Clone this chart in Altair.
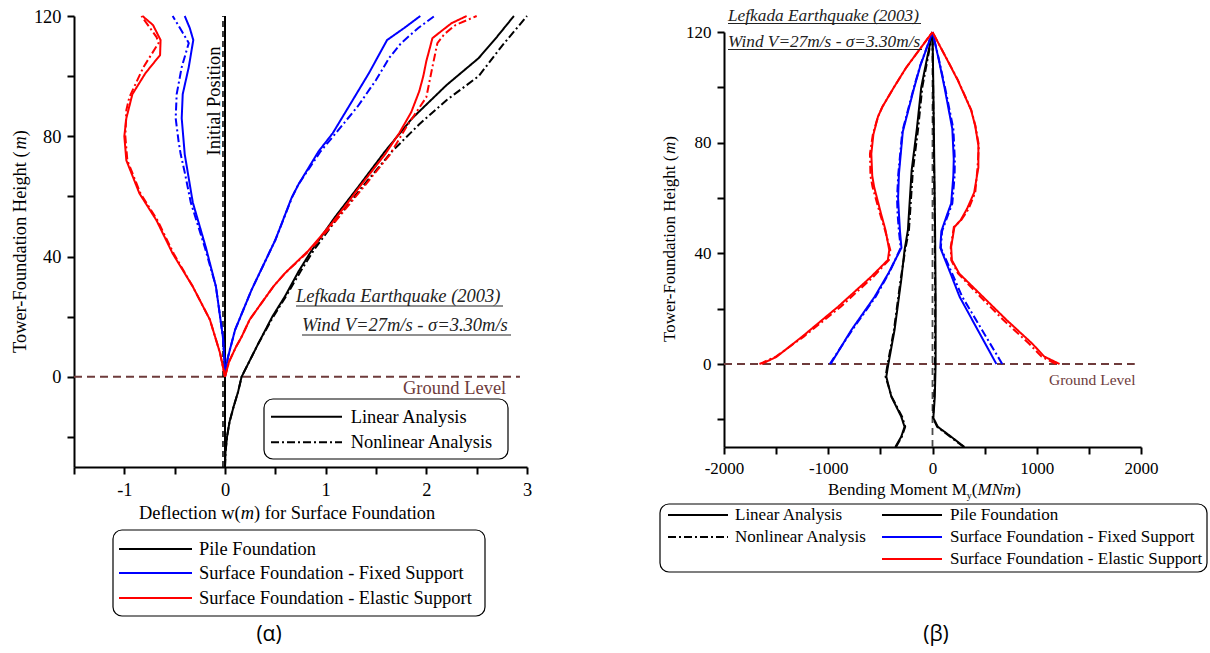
import altair as alt
import pandas as pd

SERIF = "Liberation Serif"
SANS = "Open Sans"
BROWN = "#6e3b3b"
INK = "#222222"
DASHDOT = [8, 3, 2, 3]

FOUNDATIONS = ["Pile Foundation", "Surface Foundation - Fixed Support", "Surface Foundation - Elastic Support"]
FOUND_COLORS = ["#000000", "#0000ff", "#ff0000"]
ANALYSES = ["Linear Analysis", "Nonlinear Analysis"]

# ---------------- (α) deflection w (m) vs height (m) ----------------
DEF_PILE_LIN_H = [-30, -25, -20, -15, -10, -5, 0, 5, 11, 20, 27, 35, 42, 53, 63, 75, 86, 97, 106, 113, 120]
DEF_PILE_LIN_W = [0.0, 0.005, 0.02, 0.045, 0.085, 0.13, 0.165, 0.24, 0.33, 0.47, 0.60, 0.73, 0.86, 1.09, 1.32, 1.59, 1.86, 2.20, 2.52, 2.70, 2.87]
DEF_PILE_NL_H = [-30, -25, -20, -15, -10, -5, 0, 5, 11, 20, 27, 35, 42, 53, 63, 75, 84, 92, 100, 110, 120]
DEF_PILE_NL_W = [0.0, 0.005, 0.02, 0.045, 0.085, 0.13, 0.165, 0.24, 0.33, 0.48, 0.61, 0.75, 0.88, 1.12, 1.36, 1.66, 1.93, 2.20, 2.52, 2.75, 3.00]

DEF_FIX_LIN_POS_H = [0, 3, 6.6, 15.6, 29, 45.5, 59.4, 64, 75, 81, 91, 101, 112, 116, 120]
DEF_FIX_LIN_POS_W = [0, 0.01, 0.03, 0.10, 0.265, 0.50, 0.66, 0.73, 0.93, 1.07, 1.25, 1.43, 1.61, 1.78, 1.94]
DEF_FIX_NL_POS_H = [0, 3, 6.6, 15.6, 29, 45.5, 60, 64, 75, 81, 90, 98.7, 106, 111, 116, 120]
DEF_FIX_NL_POS_W = [0, 0.01, 0.03, 0.10, 0.265, 0.50, 0.67, 0.73, 0.95, 1.10, 1.32, 1.50, 1.63, 1.75, 1.92, 2.08]
DEF_FIX_LIN_NEG_H = [0, 5, 13, 30, 43, 58, 68, 74, 78, 86, 94, 103, 112, 116, 120]
DEF_FIX_LIN_NEG_W = [0, -0.005, -0.02, -0.09, -0.19, -0.32, -0.37, -0.40, -0.41, -0.43, -0.42, -0.36, -0.315, -0.35, -0.40]
DEF_FIX_NL_NEG_H = [0, 5, 13, 30, 43, 58, 68, 74, 78, 86, 94, 103, 111, 115, 120]
DEF_FIX_NL_NEG_W = [0, -0.005, -0.02, -0.09, -0.20, -0.34, -0.40, -0.44, -0.46, -0.49, -0.48, -0.43, -0.36, -0.43, -0.52]

DEF_EL_LIN_POS_H = [0, 5, 10, 13.3, 19, 23, 30, 34.6, 42, 51, 58.8, 62, 74, 81, 88, 95, 100, 105, 110, 112.6, 115, 117.6, 120]
DEF_EL_LIN_POS_W = [0, 0.04, 0.11, 0.165, 0.245, 0.33, 0.48, 0.60, 0.83, 1.06, 1.24, 1.31, 1.59, 1.73, 1.85, 1.93, 1.97, 2.00, 2.04, 2.06, 2.15, 2.25, 2.40]
DEF_EL_NL_POS_H = [0, 5, 10, 13.3, 19, 23, 30, 34.6, 42, 51, 58.8, 62, 74, 83, 93, 103, 111, 114, 117, 120]
DEF_EL_NL_POS_W = [0, 0.04, 0.11, 0.165, 0.245, 0.33, 0.48, 0.60, 0.84, 1.08, 1.27, 1.35, 1.64, 1.80, 2.00, 2.06, 2.11, 2.18, 2.29, 2.50]
DEF_EL_LIN_NEG_H = [0, 8, 19, 30, 41, 52, 61, 72, 80, 86, 94, 101, 107, 112, 117, 120]
DEF_EL_LIN_NEG_W = [0, -0.05, -0.15, -0.32, -0.52, -0.68, -0.85, -0.98, -1.00, -0.98, -0.92, -0.79, -0.645, -0.64, -0.715, -0.82]
DEF_EL_NL_NEG_H = [0, 8, 19, 30, 41, 52, 61, 72, 80, 88.7, 93, 103, 111, 113, 120]
DEF_EL_NL_NEG_W = [0, -0.05, -0.15, -0.32, -0.51, -0.67, -0.84, -0.97, -0.99, -0.98, -0.95, -0.81, -0.66, -0.68, -0.83]

# ---------------- (β) bending moment My (MNm) vs height (m) ----------------
MOM_PILE_LIN_NEG_H = [-30, -26.3, -22.7, -19, -11.8, -4.6, -1, 12.3, 30.4, 41.2, 48.4, 70, 85, 100, 110, 120]
MOM_PILE_LIN_NEG_M = [-357, -300, -268, -300, -395, -443, -428, -364, -300, -268, -236, -200, -150, -108, -55, 0]
MOM_PILE_NL_NEG_M = [-350, -295, -262, -292, -392, -450, -435, -370, -306, -262, -226, -188, -138, -98, -48, 0]
MOM_PILE_POS_H = [-30, -26.3, -22.7, -19.5, -12, 0, 24, 48, 70, 100, 120]
MOM_PILE_LIN_POS_M = [306, 179, 51, 8, 22, 30, 30, 25, 18, 8, 0]
MOM_PILE_NL_POS_M = [300, 170, 45, 5, 16, 24, 26, 22, 15, 6, 0]

MOM_FIX_NEG_H = [0, 12.3, 24.3, 33, 42, 48, 54.3, 60, 68.7, 84, 100, 108, 120]
MOM_FIX_LIN_NEG_M = [-977, -778, -555, -420, -298, -312, -322, -330, -322, -285, -175, -115, 0]
MOM_FIX_NL_NEG_M = [-985, -770, -545, -415, -305, -322, -335, -340, -328, -290, -178, -117, 0]
MOM_FIX_POS_H = [0, 12.3, 24.3, 33, 42, 48, 54, 58, 68, 74, 85, 100, 110, 120]
MOM_FIX_LIN_POS_M = [613, 434, 260, 170, 75, 85, 140, 179, 200, 204, 190, 115, 60, 0]
MOM_FIX_NL_POS_M = [669, 475, 285, 185, 80, 92, 150, 190, 212, 214, 200, 120, 62, 0]

MOM_EL_NEG_H = [0, 2.6, 9.9, 20.7, 31.6, 37.6, 41.2, 48.3, 54.5, 64, 68, 76, 83, 89.4, 93, 100, 107, 120]
MOM_EL_LIN_NEG_M = [-1639, -1496, -1250, -906, -587, -428, -415, -450, -495, -560, -578, -587, -567, -523, -480, -370, -255, 0]
MOM_EL_NL_NEG_M = [-1660, -1505, -1235, -880, -565, -418, -405, -455, -505, -575, -595, -600, -572, -523, -480, -370, -255, 0]
MOM_EL_POS_H = [0, 2.7, 7.4, 15.9, 23.1, 32.7, 37.5, 42.3, 49.5, 52, 56, 62, 71, 79, 86, 91.8, 102.6, 110, 120]
MOM_EL_LIN_POS_M = [1219, 1072, 956, 711, 516, 256, 186, 179, 210, 270, 330, 400, 440, 440, 410, 370, 242, 140, 0]
MOM_EL_NL_POS_M = [1185, 1045, 925, 680, 490, 245, 180, 175, 205, 275, 345, 410, 432, 445, 412, 372, 244, 141, 0]

DEF_SERIES = [
    (FOUNDATIONS[0], ANALYSES[0], DEF_PILE_LIN_H, DEF_PILE_LIN_W),
    (FOUNDATIONS[0], ANALYSES[1], DEF_PILE_NL_H, DEF_PILE_NL_W),
    (FOUNDATIONS[1], ANALYSES[0], DEF_FIX_LIN_POS_H, DEF_FIX_LIN_POS_W),
    (FOUNDATIONS[1], ANALYSES[1], DEF_FIX_NL_POS_H, DEF_FIX_NL_POS_W),
    (FOUNDATIONS[1], ANALYSES[0], DEF_FIX_LIN_NEG_H, DEF_FIX_LIN_NEG_W),
    (FOUNDATIONS[1], ANALYSES[1], DEF_FIX_NL_NEG_H, DEF_FIX_NL_NEG_W),
    (FOUNDATIONS[2], ANALYSES[0], DEF_EL_LIN_POS_H, DEF_EL_LIN_POS_W),
    (FOUNDATIONS[2], ANALYSES[1], DEF_EL_NL_POS_H, DEF_EL_NL_POS_W),
    (FOUNDATIONS[2], ANALYSES[0], DEF_EL_LIN_NEG_H, DEF_EL_LIN_NEG_W),
    (FOUNDATIONS[2], ANALYSES[1], DEF_EL_NL_NEG_H, DEF_EL_NL_NEG_W),
]
MOM_SERIES = [
    (FOUNDATIONS[0], ANALYSES[0], MOM_PILE_LIN_NEG_H, MOM_PILE_LIN_NEG_M),
    (FOUNDATIONS[0], ANALYSES[1], MOM_PILE_LIN_NEG_H, MOM_PILE_NL_NEG_M),
    (FOUNDATIONS[0], ANALYSES[0], MOM_PILE_POS_H, MOM_PILE_LIN_POS_M),
    (FOUNDATIONS[0], ANALYSES[1], MOM_PILE_POS_H, MOM_PILE_NL_POS_M),
    (FOUNDATIONS[1], ANALYSES[0], MOM_FIX_NEG_H, MOM_FIX_LIN_NEG_M),
    (FOUNDATIONS[1], ANALYSES[1], MOM_FIX_NEG_H, MOM_FIX_NL_NEG_M),
    (FOUNDATIONS[1], ANALYSES[0], MOM_FIX_POS_H, MOM_FIX_LIN_POS_M),
    (FOUNDATIONS[1], ANALYSES[1], MOM_FIX_POS_H, MOM_FIX_NL_POS_M),
    (FOUNDATIONS[2], ANALYSES[0], MOM_EL_NEG_H, MOM_EL_LIN_NEG_M),
    (FOUNDATIONS[2], ANALYSES[1], MOM_EL_NEG_H, MOM_EL_NL_NEG_M),
    (FOUNDATIONS[2], ANALYSES[0], MOM_EL_POS_H, MOM_EL_LIN_POS_M),
    (FOUNDATIONS[2], ANALYSES[1], MOM_EL_POS_H, MOM_EL_NL_POS_M),
]


def build(series, vname):
    rows = []
    for sid, (found, analysis, hs, vs) in enumerate(series):
        for i, (h, v) in enumerate(zip(hs, vs)):
            rows.append({"series": sid, "foundation": found, "analysis": analysis,
                         "idx": i, "height": h, vname: v})
    return pd.DataFrame(rows)


# Times / Liberation Serif advance widths (1/1000 em)
REG = {' ': 250, '(': 333, ')': 333, '-': 333}
REG.update(dict(zip("ABCDEFGHIJKLMNOPQRSTUVWXYZ",
                    [722, 667, 667, 722, 611, 556, 722, 722, 333, 389, 722, 611, 889, 722, 722, 556, 722, 667, 556, 611, 722, 722, 944, 722, 722, 611])))
REG.update(dict(zip("abcdefghijklmnopqrstuvwxyz",
                    [444, 500, 444, 500, 444, 333, 500, 500, 278, 278, 500, 278, 778, 500, 500, 500, 500, 333, 389, 278, 500, 500, 722, 500, 500, 444])))
ITA = {'m': 722, 'M': 833, 'N': 667}


def tw(s, size, italic=False):
    table = ITA if italic else {}
    return sum(table.get(c, REG.get(c, 500)) for c in s) / 1000.0 * size


ONE = alt.InlineData(values=[{"k": 0}])


def txt(x, y, s, size, font=SERIF, style="normal", color="black", align="left", baseline="alphabetic", angle=None):
    kw = dict(text=s, font=font, fontSize=size, fontStyle=style, color=color, align=align, baseline=baseline)
    if angle is not None:
        kw["angle"] = angle
    return alt.Chart(ONE).mark_text(**kw).encode(x=alt.value(x), y=alt.value(y))


def hline(x1, x2, y, color="black", width=2.0, dash=None):
    kw = dict(color=color, strokeWidth=width)
    if dash is not None:
        kw["strokeDash"] = dash
    return alt.Chart(ONE).mark_rule(**kw).encode(x=alt.value(x1), x2=alt.value(x2), y=alt.value(y))


def box(x1, x2, y1, y2):
    return alt.Chart(ONE).mark_rect(fillOpacity=0, stroke="black", strokeWidth=1.2, cornerRadius=9).encode(
        x=alt.value(x1), x2=alt.value(x2), y=alt.value(y1), y2=alt.value(y2))


def seg_h(x0, y, parts):
    layers = []
    x = x0
    for s, size, italic, dy in parts:
        layers.append(txt(x, y + dy, s, size, style="italic" if italic else "normal"))
        x += tw(s, size, italic)
    return layers


def seg_v(x, ybottom, parts):
    layers = []
    y = ybottom
    for s, size, italic in parts:
        layers.append(txt(x, y, s, size, style="italic" if italic else "normal", baseline="middle", angle=270))
        y -= tw(s, size, italic)
    return layers


COLOR = alt.Color("foundation:N", scale=alt.Scale(domain=FOUNDATIONS, range=FOUND_COLORS), legend=None)
DASH = alt.StrokeDash("analysis:N", scale=alt.Scale(domain=ANALYSES, range=[[1, 0], DASHDOT]), legend=None)


def axis(values, step, size):
    return alt.Axis(values=values, labelExpr=f"datum.value % {step} == 0 ? '' + datum.value : ''",
                    title=None, labelFontSize=size, tickSize=7, labelPadding=6, grid=False,
                    labelOverlap=False, labelFlush=False)


# ================= panel (α) =================
# plot origin sits 16 px below the top of the axis (shared row origin with panel β)
O = -16
FL = 18.4
XS_L = alt.Scale(domain=[-1.5, 3], nice=False, zero=False)
YS_L = alt.Scale(domain=[-30, 120], range=[435, O], nice=False, zero=False)
XAX_L = axis([-1.5, -1, -0.5, 0, 0.5, 1, 1.5, 2, 2.5, 3], 1, FL)
YAX_L = axis([-20, 0, 20, 40, 60, 80, 100, 120], 40, FL)

def_df = build(DEF_SERIES, "w")
ground_l = pd.DataFrame({"w": [-1.5], "w2": [2.93], "h": [0]})
init_l = pd.DataFrame({"w": [0.0], "h": [-30], "h2": [120]})
init_dash_l = pd.DataFrame({"w": [-0.02], "h": [-30], "h2": [120]})

left_layers = [
    alt.Chart(ground_l).mark_rule(color=BROWN, strokeWidth=2, strokeDash=[8, 5]).encode(
        x=alt.X("w:Q", scale=XS_L, axis=XAX_L), x2="w2:Q", y=alt.Y("h:Q", scale=YS_L, axis=YAX_L)),
    alt.Chart(init_l).mark_rule(color="black", strokeWidth=2).encode(
        x=alt.X("w:Q", scale=XS_L, axis=XAX_L), y=alt.Y("h:Q", scale=YS_L, axis=YAX_L), y2="h2:Q"),
    alt.Chart(init_dash_l).mark_rule(color="black", strokeWidth=1.5, strokeDash=[6, 4]).encode(
        x=alt.X("w:Q", scale=XS_L, axis=XAX_L), y=alt.Y("h:Q", scale=YS_L, axis=YAX_L), y2="h2:Q"),
    alt.Chart(def_df).mark_line(strokeWidth=2).encode(
        x=alt.X("w:Q", scale=XS_L, axis=XAX_L), y=alt.Y("height:Q", scale=YS_L, axis=YAX_L),
        color=COLOR, strokeDash=DASH, detail="series:N", order="idx:Q"),
    txt(139.5, 85 + O, "Initial Position", FL, align="center", baseline="middle", angle=270),
    txt(222, 286 + O, "Lefkada Earthquake (2003)", 18.5, style="italic", color=INK),
    hline(222, 429, 290 + O, color=INK, width=1.2),
    txt(228, 315 + O, "Wind V=27m/s - σ=3.30m/s", 18.5, style="italic", color=INK),
    hline(228, 437, 319 + O, color=INK, width=1.2),
    txt(329, 372 + O, "Ground Level", 18.5, color=BROWN, baseline="middle"),
    # inner legend (analysis type)
    box(190, 434, 383 + O, 443 + O),
    hline(197, 268, 400.7 + O),
    hline(197, 268, 426.3 + O, dash=DASHDOT),
    txt(276.7, 400.7 + O, ANALYSES[0], FL, baseline="middle"),
    txt(276.7, 426.3 + O, ANALYSES[1], FL, baseline="middle"),
    # bottom legend (foundation type)
    box(39, 411, 514 + O, 600 + O),
]
for i, yy in enumerate([533, 557, 582]):
    left_layers.append(hline(45, 118, yy + O, color=FOUND_COLORS[i]))
    left_layers.append(txt(125, yy + O, FOUNDATIONS[i], FL, baseline="middle"))
left_layers.append(txt(195, 619 + O, "(α)", 21, font=SANS, align="center", baseline="middle"))
left_layers += seg_v(-54, 337 + O, [("Tower-Foundation Height (", FL, False), ("m", FL, True), (")", FL, False)])
left_layers += seg_h(65, 503 + O, [("Deflection w(", FL, False, 0), ("m", FL, True, 0), (") for Surface Foundation", FL, False, 0)])

left = alt.layer(*left_layers).properties(width=453, height=435)

# ================= panel (β) =================
FR = 17
XS_R = alt.Scale(domain=[-2000, 2000], nice=False, zero=False)
YS_R = alt.Scale(domain=[-30, 120], nice=False, zero=False)
XAX_R = axis([-2000, -1500, -1000, -500, 0, 500, 1000, 1500, 2000], 1000, FR)
YAX_R = axis([-20, 0, 20, 40, 60, 80, 100, 120], 40, FR)

mom_df = build(MOM_SERIES, "m")
ground_r = pd.DataFrame({"m": [-2000], "m2": [1940], "h": [0]})
zero_r = pd.DataFrame({"m": [0], "h": [-30], "h2": [120]})

right_layers = [
    alt.Chart(zero_r).mark_rule(color="#4a4a4a", strokeWidth=1.8, strokeDash=[7, 5]).encode(
        x=alt.X("m:Q", scale=XS_R, axis=XAX_R), y=alt.Y("h:Q", scale=YS_R, axis=YAX_R), y2="h2:Q"),
    alt.Chart(ground_r).mark_rule(color=BROWN, strokeWidth=2, strokeDash=[8, 5]).encode(
        x=alt.X("m:Q", scale=XS_R, axis=XAX_R), x2="m2:Q", y=alt.Y("h:Q", scale=YS_R, axis=YAX_R)),
    alt.Chart(mom_df).mark_line(strokeWidth=2).encode(
        x=alt.X("m:Q", scale=XS_R, axis=XAX_R), y=alt.Y("height:Q", scale=YS_R, axis=YAX_R),
        color=COLOR, strokeDash=DASH, detail="series:N", order="idx:Q"),
    txt(4, -11, "Lefkada Earthquake (2003)", 17.3, style="italic", color=INK),
    hline(4, 197, -8.5, color=INK, width=1.2),
    txt(4, 15, "Wind V=27m/s - σ=3.30m/s", 17.3, style="italic", color=INK),
    hline(4, 198, 17.5, color=INK, width=1.2),
    txt(325, 348, "Ground Level", 15.5, color=BROWN, baseline="middle"),
    box(-64, 483, 472, 540),
    hline(-56, 4, 483),
    hline(-56, 4, 505, dash=DASHDOT),
    txt(11, 483, ANALYSES[0], FR, baseline="middle"),
    txt(11, 505, ANALYSES[1], FR, baseline="middle"),
]
for i, yy in enumerate([483, 505, 527]):
    right_layers.append(hline(158, 218, yy, color=FOUND_COLORS[i]))
    right_layers.append(txt(226, yy, FOUNDATIONS[i], FR, baseline="middle"))
right_layers.append(txt(212, 603, "(β)", 21, font=SANS, align="center", baseline="middle"))
right_layers += seg_v(-54, 310, [("Tower-Foundation Height (", FR, False), ("m", FR, True), (")", FR, False)])
right_layers += seg_h(104, 463, [("Bending Moment M", FR, False, 0), ("y", 10, False, 4),
                                 ("(", FR, False, 0), ("MNm", FR, True, 0), (")", FR, False, 0)])

right = alt.layer(*right_layers).properties(width=417, height=415)

chart = alt.hconcat(left, right, spacing=127).properties(
    padding={"left": 11, "top": 7, "right": 0, "bottom": 6}
).configure_view(stroke=None).configure_axis(
    domainColor="black", domainWidth=2, tickColor="black", tickWidth=2,
    labelColor="black", labelFont=SERIF
)

chart.save("out.html", embed_options={"renderer": "svg", "actions": False})
